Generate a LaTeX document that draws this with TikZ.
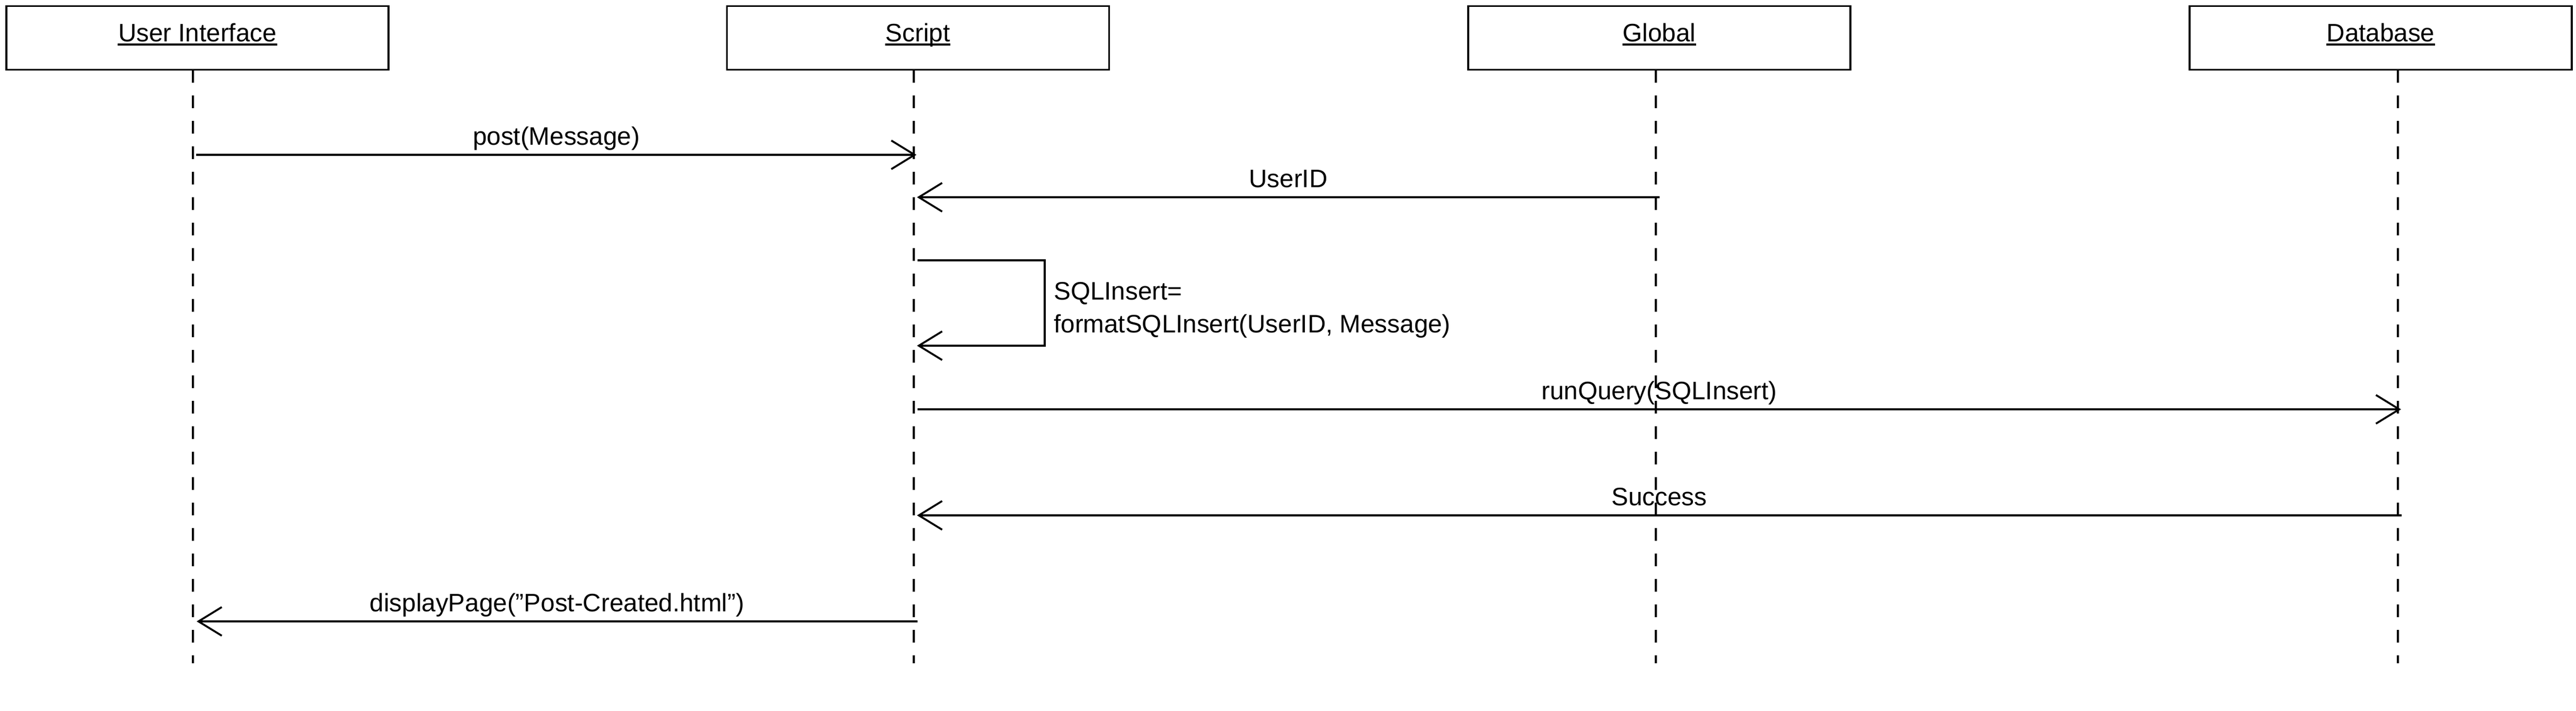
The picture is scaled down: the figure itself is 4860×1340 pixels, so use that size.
\documentclass[tikz,border=0pt]{standalone}
\usepackage{fontspec}
\setmainfont{Liberation Sans}
\usetikzlibrary{arrows.meta}

\begin{document}
\begin{tikzpicture}[x=0.25pt,y=-0.25pt,
  font=\fontsize{11.9}{15.5}\selectfont,
  head/.style={draw,line width=0.85pt,minimum width=180.25pt,minimum height=30pt,inner sep=0pt},
  title/.style={anchor=base,inner sep=0pt},
  uline/.style={line width=1pt},
  life/.style={line width=0.9pt,dash pattern=on 6pt off 6pt},
  msg/.style={line width=0.9pt,-{Straight Barb[length=11pt,width=13.5pt]}},
  lbl/.style={anchor=base,yshift=4.75pt,inner sep=0pt}]
\useasboundingbox (0,0) rectangle (4860,1340);
% heads
\node [head] (ui) at (372.5,71.7) {};
\node [head] (sc) at (1731.7,71.7) {};
\node [head] (gl) at (3130.5,71.7) {};
\node [head] (db) at (4491.5,71.7) {};
\node [title] (uiT) at (372.5,78) {User Interface};
\node [title] (scT) at (1731.7,78) {Script};
\node [title] (glT) at (3130.5,78) {Global};
\node [title] (dbT) at (4491.5,78) {Database};
\draw [uline] ([yshift=-1.45pt]uiT.base west) -- ([yshift=-1.45pt]uiT.base east);
\draw [uline] ([yshift=-1.45pt]scT.base west) -- ([yshift=-1.45pt]scT.base east);
\draw [uline] ([yshift=-1.45pt]glT.base west) -- ([yshift=-1.45pt]glT.base east);
\draw [uline] ([yshift=-1.45pt]dbT.base west) -- ([yshift=-1.45pt]dbT.base east);
% lifelines
\coordinate (uiL) at (364,131.7);
\coordinate (uiB) at (364,1251);
\coordinate (scL) at (1724,131.7);
\coordinate (scB) at (1724,1251);
\coordinate (glL) at (3124,131.7);
\coordinate (glB) at (3124,1251);
\coordinate (dbL) at (4524,131.7);
\coordinate (dbB) at (4524,1251);
\draw [life] (uiL) -- (uiB);
\draw [life] (scL) -- (scB);
\draw [life] (glL) -- (glB);
\draw [life] (dbL) -- (dbB);
% messages
\coordinate (ui1) at (370,292);
\coordinate (sc1) at (1729,292);
\coordinate (gl2) at (3131,372);
\coordinate (sc2) at (1730,372);
\coordinate (sc3) at (1731,491);
\coordinate (lp1) at (1971,491);
\coordinate (lp2) at (1971,652);
\coordinate (sc4) at (1730,652);
\coordinate (sc5) at (1731,772);
\coordinate (db5) at (4530,772);
\coordinate (db6) at (4531,972);
\coordinate (sc6) at (1730,972);
\coordinate (sc7) at (1731,1172);
\coordinate (ui7) at (371,1172);
\draw [msg] (ui1) -- node [lbl] {post(Message)} (sc1);
\draw [msg] (gl2) -- node [lbl] {UserID} (sc2);
\draw [msg] (sc3) -- (lp1) -- (lp2) -- (sc4);
\node [anchor=base west,align=left,inner sep=0pt] (fmt) at (1987.5,627) {SQLInsert=\\formatSQLInsert(UserID, Message)};
\draw [msg] (sc5) -- node [lbl] {runQuery(SQLInsert)} (db5);
\draw [msg] (db6) -- node [lbl] {Success} (sc6);
\draw [msg] (sc7) -- node [lbl] {displayPage("Post-Created.html")} (ui7);
\end{tikzpicture}
\end{document}
